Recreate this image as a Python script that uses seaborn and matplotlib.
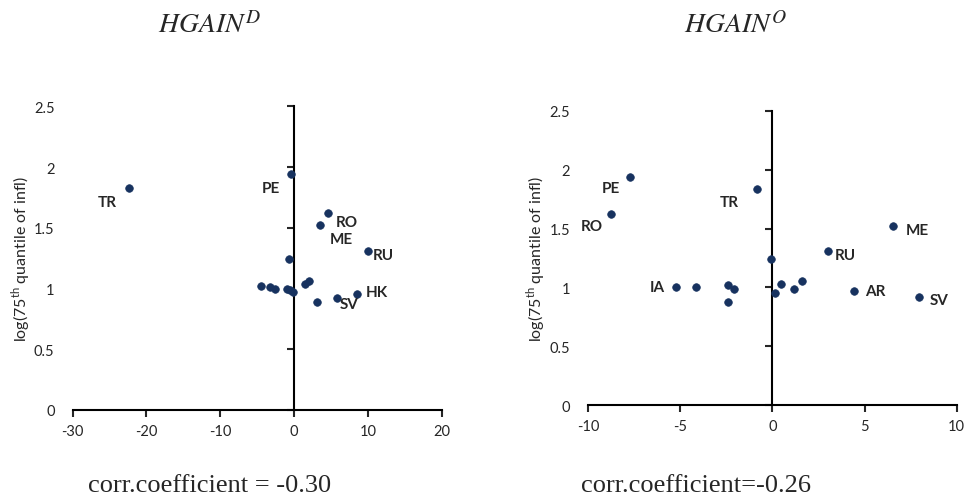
import numpy as np
import pandas as pd
import matplotlib
matplotlib.use("Agg")
import matplotlib.pyplot as plt
import seaborn as sns

# HGAIN^D panel
d_x = [-22.3, -0.46, 4.55, 3.51, 10.0, -0.64, -4.48, -3.31, -2.54, -1.0,
       -0.55, -0.14, 1.53, 1.98, 3.06, 5.86, 8.53]
d_y = [1.83, 1.94, 1.62, 1.52, 1.31, 1.24, 1.02, 1.01, 1.0, 1.0,
       0.99, 0.97, 1.04, 1.06, 0.89, 0.92, 0.955]
d_lab = ["TR", "PE", "RO", "ME", "RU", "", "", "", "", "",
         "", "", "", "", "", "SV", "HK"]

# HGAIN^O panel
o_x = [-7.74, -8.75, -0.84, 6.56, 3.0, -0.06, -5.26, -4.14, -2.43, -2.07,
       -2.43, 0.15, 0.46, 1.15, 1.58, 4.43, 7.97]
o_y = [1.936, 1.62, 1.834, 1.52, 1.312, 1.239, 1.0, 1.0, 1.02, 0.99,
       0.88, 0.952, 1.026, 0.99, 1.054, 0.972, 0.916]
o_lab = ["PE", "RO", "TR", "ME", "RU", "", "IA", "", "", "",
         "", "", "", "", "", "AR", "SV"]

# label offsets in points
d_off = {"TR": (-16, -10), "PE": (-14, -10), "RO": (14, -6.5), "ME": (15, -10),
         "RU": (11, -3), "HK": (14, 1.5), "SV": (8.5, -4)}
o_off = {"PE": (-14, -8), "RO": (-14, -8.5), "TR": (-20, -9), "ME": (17, -2.5),
         "RU": (13, -3), "IA": (-13, 0), "AR": (15, -0.5), "SV": (14, -2)}

sns.set_style("white")
plt.rcParams['font.family'] = ['Lato', 'DejaVu Sans']
plt.rcParams['mathtext.fontset'] = 'custom'
plt.rcParams['mathtext.rm'] = 'Lato'
plt.rcParams['axes.unicode_minus'] = False

dot = '#17325f'
fig = plt.figure(figsize=(9.74, 5.02), dpi=100)

panels = [
    (d_x, d_y, d_lab, d_off, [0.0746, 0.1813, 0.3789, 0.605], (-30, 20), 10,
     r"$\mathit{HGAIN}^{D}$", 0.215, "corr.coefficient = -0.30", 0.090),
    (o_x, o_y, o_lab, o_off, [0.604, 0.1912, 0.3782, 0.5857], (-10, 10), 5,
     r"$\mathit{HGAIN}^{O}$", 0.755, "corr.coefficient=-0.26", 0.596),
]

for xs, ys, labs, offs, rect, xlim, step, title, tx, corr, cx in panels:
    ax = fig.add_axes(rect)
    df = pd.DataFrame({'x': xs, 'y': ys, 'lab': labs})
    sns.scatterplot(data=df, x='x', y='y', ax=ax, color=dot, s=30,
                    edgecolor=dot, linewidth=0.5, zorder=3, clip_on=False)
    ax.set_xlim(*xlim)
    ax.set_ylim(0, 2.5)
    ax.set_xticks(np.arange(xlim[0], xlim[1] + 1, step))
    ax.set_yticks([0, 0.5, 1, 1.5, 2, 2.5])
    ax.set_yticklabels(['0', '0.5', '1', '1.5', '2', '2.5'])
    ax.set_xlabel('')
    ax.set_ylabel('log(75$^{\\mathrm{th}}$ quantile of infl)', fontsize=11.5,
                  labelpad=1)
    for s in ['top', 'right', 'left']:
        ax.spines[s].set_visible(False)
    ax.spines['bottom'].set_linewidth(1.5)
    ax.spines['bottom'].set_color('black')
    ax.tick_params(axis='x', direction='out', length=5, width=1.5,
                   labelsize=10.5, pad=5, bottom=True)
    ax.tick_params(axis='y', length=0, labelsize=10.5, pad=13)

    # vertical axis at x = 0
    loc = (0 - xlim[0]) / (xlim[1] - xlim[0])
    sec = ax.secondary_yaxis(loc)
    sec.set_alignment('left')
    sec.set_yticks([0, 0.5, 1, 1.5, 2, 2.5])
    sec.set_yticklabels([])
    for sp in sec.spines.values():
        sp.set_linewidth(1.5)
        sp.set_color('black')
    sec.tick_params(axis='y', direction='out', length=5, width=1.5)

    for x, y, l in zip(xs, ys, labs):
        if l:
            ax.annotate(l, (x, y), xytext=offs[l], textcoords='offset points',
                        ha='center', va='center', fontsize=11,
                        fontweight='bold')

    fig.text(tx, 0.936, title, ha='center', va='baseline', fontsize=20,
             family='Liberation Serif', math_fontfamily='stix')
    fig.text(cx, 0.02, corr, ha='left', va='baseline', fontsize=19,
             family='Liberation Serif')

fig.savefig('out.png', dpi=100)
